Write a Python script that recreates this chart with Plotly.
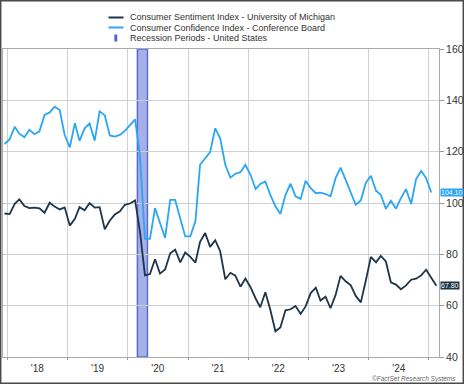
import pandas as pd
import plotly.graph_objects as go

# ---- data (monthly, Dec 2017 onward) ----
sentiment = [95.9,
             95.7, 99.7, 101.4, 98.8, 98.0, 98.2, 97.9, 96.2, 100.1, 98.6, 97.5, 98.3,
             91.2, 93.8, 98.4, 97.2, 100.0, 98.2, 98.4, 89.8, 93.2, 95.5, 96.8, 99.3,
             99.8, 101.0, 89.1, 71.8, 72.3, 78.1, 72.5, 74.1, 80.4, 81.8, 76.9, 80.7,
             79.0, 76.8, 84.9, 88.3, 82.9, 85.5, 81.2, 70.3, 72.8, 71.7, 67.4, 70.6,
             67.2, 62.8, 59.4, 65.2, 58.4, 50.0, 51.5, 58.2, 58.6, 59.9, 56.8, 59.7,
             64.9, 67.0, 62.0, 63.5, 59.0, 64.2, 71.6, 69.5, 67.9, 63.8, 61.3, 69.7,
             79.0, 76.9, 79.4, 77.2, 69.1, 68.2, 66.4, 67.9, 70.1, 70.5, 71.8, 74.0,
             71.1, 67.8]
confidence = [123.0,
              124.8, 129.7, 127.0, 125.6, 128.5, 126.8, 127.9, 134.3, 135.3, 137.5, 136.2, 126.5,
              121.7, 131.1, 124.2, 129.1, 131.0, 124.3, 135.7, 134.2, 126.3, 125.9, 126.5, 128.1,
              130.4, 132.6, 118.8, 86.0, 86.0, 98.0, 92.2, 86.4, 101.2, 101.2, 94.0, 87.0,
              87.0, 93.0, 114.9, 117.5, 119.8, 129.1, 125.2, 114.9, 109.9, 111.4, 112.0, 114.9,
              111.0, 105.4, 107.4, 108.4, 103.2, 98.7, 95.7, 103.2, 107.5, 102.6, 101.6, 108.7,
              105.8, 103.8, 104.0, 103.5, 102.6, 109.7, 113.8, 109.0, 104.1, 99.3, 101.0, 107.8,
              110.6, 104.8, 103.2, 97.7, 100.9, 97.8, 101.9, 105.4, 99.6, 109.3, 112.5, 109.7,
              104.1]
start_month = "2017-12-01"
recession_start = "2020-02-29"
recession_end = "2020-04-30"
x_range = ["2017-12-06", "2025-03-03"]
y_ticks = [40, 60, 80, 100, 120, 140, 160]

names = ["Consumer Sentiment Index - University of Michigan",
         "Consumer Confidence Index - Conference Board",
         "Recession Periods - United States"]

dark = "#1c3549"
light = "#2aa6f4"

def month_dates(n):
    return pd.date_range(start_month, periods=n, freq="MS") + pd.Timedelta(days=14)

fig = go.Figure()
fig.add_trace(go.Scatter(x=month_dates(len(confidence)), y=confidence, mode="lines",
                         line=dict(color=light, width=1.8), name=names[1], showlegend=False))
fig.add_trace(go.Scatter(x=month_dates(len(sentiment)), y=sentiment, mode="lines",
                         line=dict(color=dark, width=1.8), name=names[0], showlegend=False))

# recession band
fig.add_shape(type="rect", xref="x", yref="paper", x0=recession_start, x1=recession_end,
              y0=0, y1=1, fillcolor="#a5afe8", line=dict(color="#5a6ad8", width=1.5),
              layer="between")

# plot geometry (pixels) for legend layout
W, H = 464, 384
ml, mr, mt, mb = 3, 25, 49, 27
pw, ph = W - ml - mr, H - mt - mb

def px(xp):
    return (xp - ml) / pw

def py(yp):
    return (H - mb - yp) / ph

font = "Liberation Sans, Arial, sans-serif"
legend_rows = [17.5, 27.5, 38]
for i, (nm, yy) in enumerate(zip(names, legend_rows)):
    fig.add_annotation(xref="paper", yref="paper", x=px(127.5), y=py(yy), text=nm,
                       showarrow=False, xanchor="left", yanchor="middle",
                       font=dict(family=font, size=9, color="#333333"))
    if i < 2:
        fig.add_shape(type="line", xref="paper", yref="paper", x0=px(108.5), x1=px(123.5),
                      y0=py(yy), y1=py(yy), line=dict(color=[dark, light][i], width=2))
    else:
        fig.add_shape(type="rect", xref="paper", yref="paper", x0=px(114.3), x1=px(117.3),
                      y0=py(yy + 3.5), y1=py(yy - 3.5), fillcolor="#5566d6",
                      line=dict(width=0))

# last value labels
fig.add_annotation(xref="paper", yref="y", x=1, xshift=1, y=confidence[-1],
                   text=f"{confidence[-1]:.2f}", showarrow=False, xanchor="left",
                   yanchor="middle", bgcolor=light, borderpad=0,
                   font=dict(family=font, size=7, color="white"))
fig.add_annotation(xref="paper", yref="y", x=1, xshift=1, y=sentiment[-1],
                   text=f"{sentiment[-1]:.2f}", showarrow=False, xanchor="left",
                   yanchor="middle", bgcolor=dark, borderpad=0,
                   font=dict(family=font, size=7, color="white"))

# footer
fig.add_annotation(xref="paper", yref="paper", x=px(458), y=py(378.5),
                   text="<i>©FactSet Research Systems</i>", showarrow=False,
                   xanchor="right", yanchor="middle",
                   font=dict(family=font, size=6.5, color="#666666"))

# image border
fig.add_shape(type="rect", xref="paper", yref="paper", x0=px(0.7), x1=px(W - 0.7),
              y0=py(H - 0.7), y1=py(0.7), line=dict(color="#4a4a4a", width=1.5),
              fillcolor="rgba(0,0,0,0)")

fig.update_layout(
    width=W, height=H, margin=dict(l=ml, r=mr, t=mt, b=mb, autoexpand=False),
    paper_bgcolor="white", plot_bgcolor="white", showlegend=False,
    font=dict(family=font, color="#333333"),
    xaxis=dict(type="date", range=x_range, tick0="2018-01-01", dtick="M12",
               tickformat="'%y", ticklabelmode="period", showgrid=True,
               gridcolor="#cdd0d4", gridwidth=1, ticks="outside", ticklen=2,
               tickcolor="#999999", showline=True, linecolor="#aaaaaa", mirror=True,
               tickfont=dict(size=10, color="#333333"), zeroline=False),
    yaxis=dict(side="right", range=[40, 160], tickvals=y_ticks, showgrid=True,
               gridcolor="#cfcfcf", gridwidth=1, ticks="outside", ticklen=4,
               tickcolor="#999999", showline=True, linecolor="#aaaaaa", mirror=True,
               tickfont=dict(size=10.5, color="#333333"), zeroline=False),
)

fig.write_html("out.html", config={"displayModeBar": False},
               post_script="document.body.style.margin='0';document.body.style.padding='0';")
